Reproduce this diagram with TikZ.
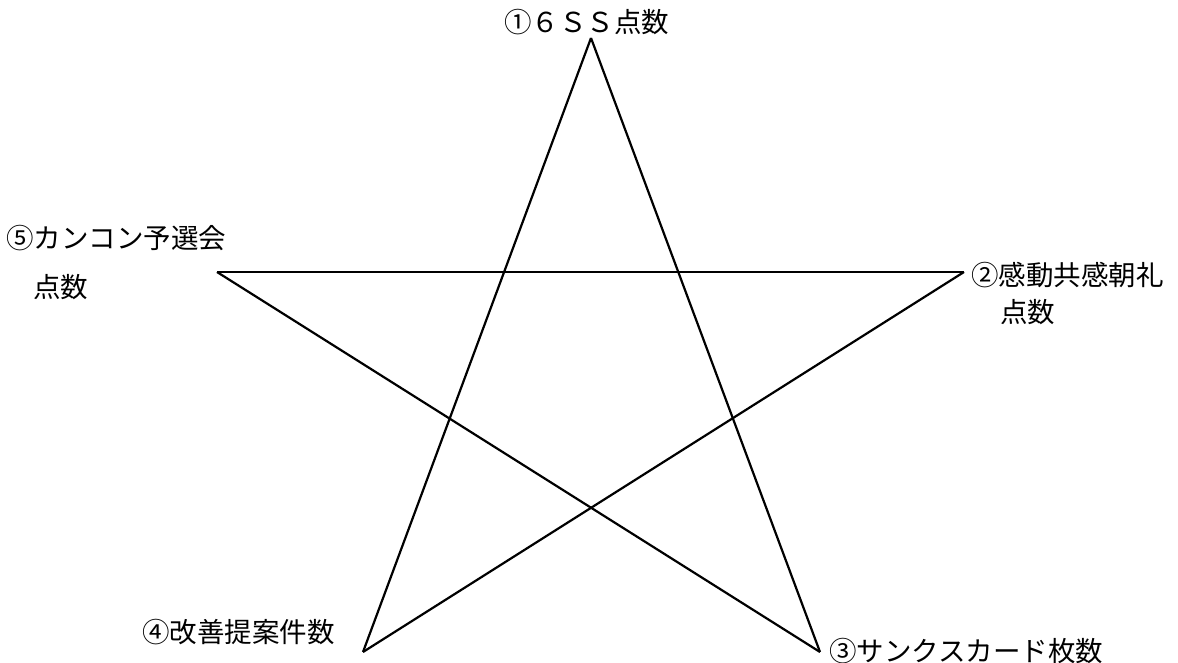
\documentclass[tikz,border=0pt]{standalone}
\usepackage{fontspec}
\newfontfamily\jp{Noto Sans CJK JP}
\tikzset{
  lbl/.style={inner sep=0pt, anchor=west, font=\jp\fontsize{27.5}{30}\selectfont},
  edge/.style={line width=2.2pt, line join=miter}
}
\begin{document}
\begin{tikzpicture}[x=1pt,y=-1pt]
\useasboundingbox (0,0) rectangle (1178,663);
\coordinate (T) at (591,38);
\coordinate (L) at (217,272);
\coordinate (R) at (964,272);
\coordinate (BL) at (363,652);
\coordinate (BR) at (820,652);
\draw[edge] (T) -- (BL);
\draw[edge] (T) -- (BR);
\draw[edge] (L) -- (R);
\draw[edge] (L) -- (BR);
\draw[edge] (R) -- (BL);
\node[lbl] (t1) at (504,22) {①６ＳＳ点数};
\node[lbl] (t5a) at (6,238) {⑤カンコン予選会};
\node[lbl] (t5b) at (33,287) {点数};
\node[lbl] (t2a) at (971,275) {②感動共感朝礼};
\node[lbl] (t2b) at (1000,312) {点数};
\node[lbl] (t4) at (142,632) {④改善提案件数};
\node[lbl] (t3) at (829,651) {③サンクスカード枚数};
\end{tikzpicture}
\end{document}
